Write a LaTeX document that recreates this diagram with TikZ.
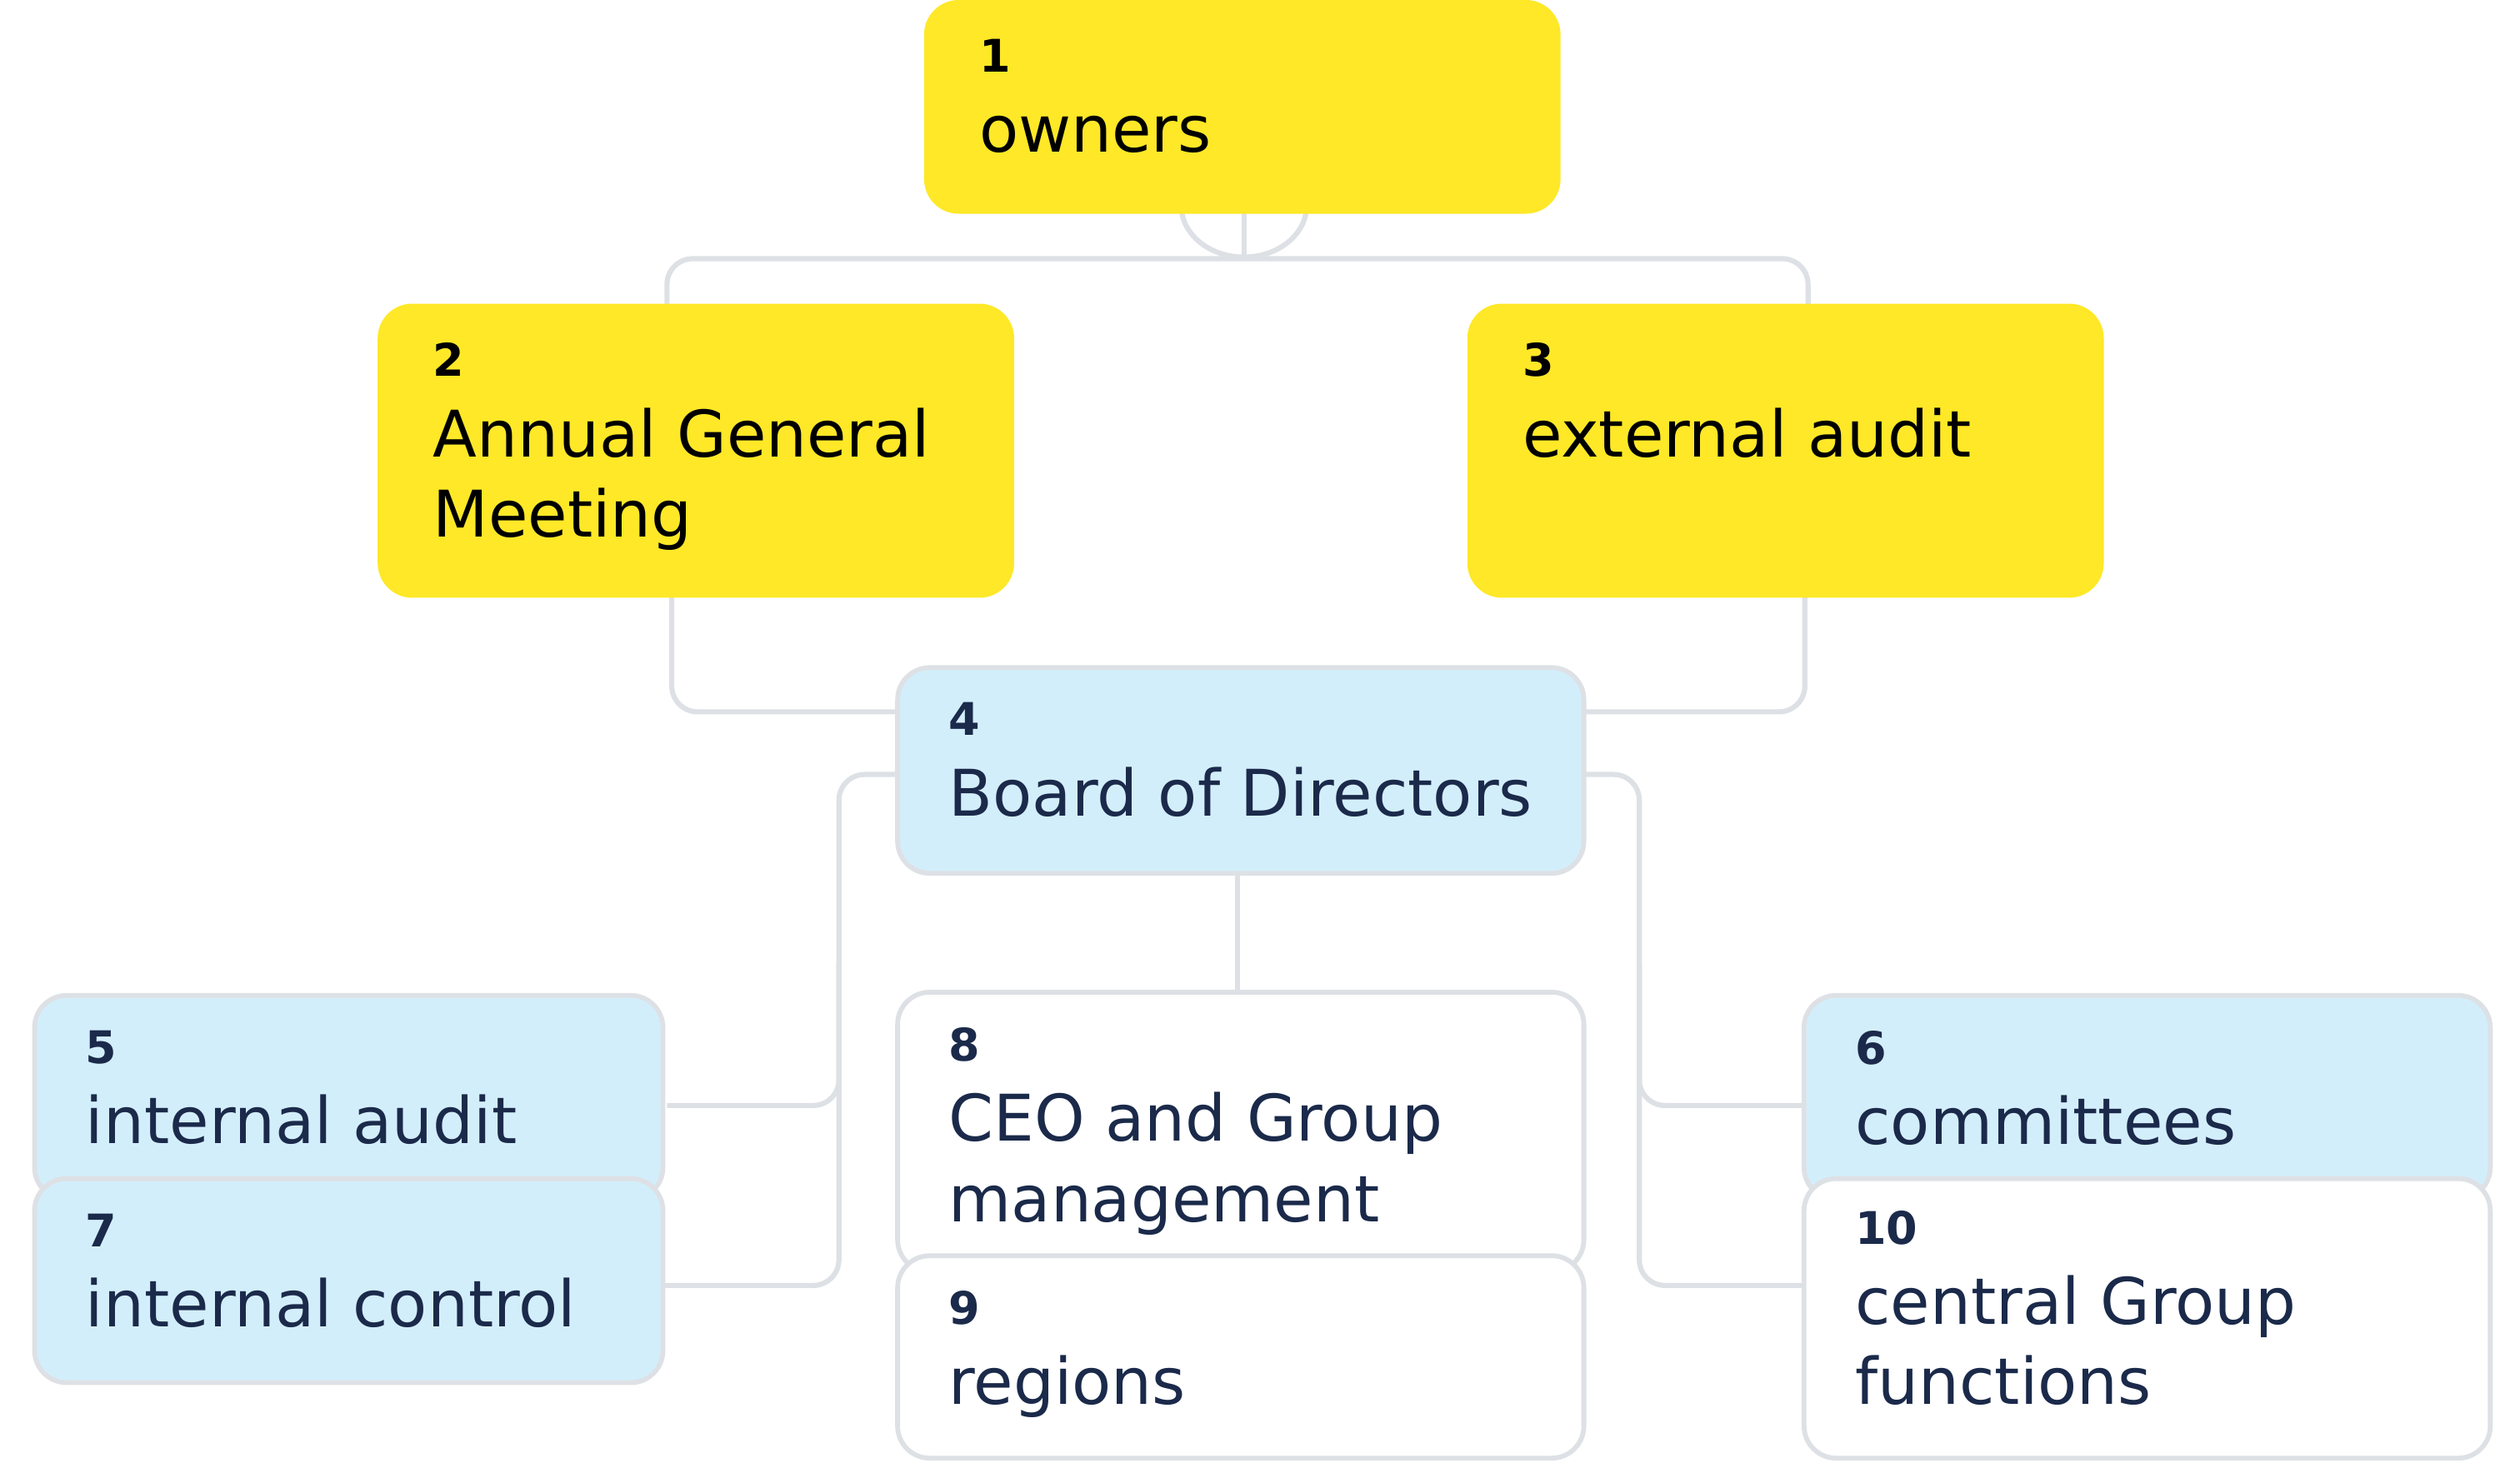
\documentclass[tikz,border=0pt]{standalone}
\usepackage{fontspec}
\setmainfont{DejaVu Sans}
\definecolor{yel}{HTML}{FEE827}
\definecolor{lblue}{HTML}{D3EEFB}
\definecolor{lgray}{HTML}{DDE1E5}
\definecolor{navy}{HTML}{1B2A4A}
\begin{document}
\begin{tikzpicture}[x=0.5pt,y=-0.5pt,
  box/.style={draw=lgray,line width=1.5pt,rounded corners=10pt,inner sep=0pt,anchor=north west},
  ybox/.style={box,fill=yel,draw=yel},
  bbox/.style={box,fill=lblue},
  wbox/.style={box,fill=white},
  conn/.style={draw=lgray,line width=1.6pt,rounded corners=8pt},
  txt/.style={anchor=north west,inner sep=0pt,align=left,font=\fontsize{20}{25}\selectfont},
]
\useasboundingbox (0,0) rectangle (1568,910);
\newcommand{\num}[1]{{\fontsize{14}{25}\selectfont\bfseries #1}}
% connectors
\coordinate (c1) at (774,160);
\draw[conn] (735,128) arc[start angle=180,end angle=360,x radius=39,y radius=-32];
\draw[conn] (774,128) -- (c1);
\draw[conn] (415,190) -- (415,161) -- (1125,161) -- (1125,190);
\draw[conn] (418,368) -- (418,443) -- (560,443);
\draw[conn] (1123,368) -- (1123,443) -- (982,443);
\draw[conn] (560,482) -- (522,482) -- (522,688) -- (415,688);
\draw[conn] (522,600) -- (522,800) -- (411,800);
\draw[conn] (982,482) -- (1020,482) -- (1020,688) -- (1121,688);
\draw[conn] (1020,600) -- (1020,800) -- (1121,800);
\draw[conn] (770,540) -- (770,618);
% boxes
\node[ybox,minimum width=196.5pt,minimum height=65pt] (b1) at (575,0) {};
\node[ybox,minimum width=196.5pt,minimum height=90pt] (b2) at (235,189) {};
\node[ybox,minimum width=196.5pt,minimum height=90pt] (b3) at (913,189) {};
\node[bbox,minimum width=213.5pt,minimum height=64pt] (b4) at (557,414) {};
\node[bbox,minimum width=195.5pt,minimum height=63.5pt] (b5) at (20,618) {};
\node[bbox,minimum width=195.5pt,minimum height=63.5pt] (b7) at (20,732) {};
\node[wbox,minimum width=213.5pt,minimum height=87pt] (b8) at (557,616) {};
\node[wbox,minimum width=213.5pt,minimum height=63pt] (b9) at (557,780) {};
\node[bbox,minimum width=213.5pt,minimum height=63.5pt] (b6) at (1121,618) {};
\node[wbox,minimum width=213.5pt,minimum height=87pt] (b10) at (1121,732) {};
% texts
\node[txt] (t1) at (609,24) {\num{1}\\owners};
\node[txt] (t2) at (269,213) {\num{2}\\Annual General\\Meeting};
\node[txt] (t3) at (947,213) {\num{3}\\external audit};
\node[txt,text=navy] (t4) at (590,437) {\num{4}\\Board of Directors};
\node[txt,text=navy] (t5) at (53,641) {\num{5}\\internal audit};
\node[txt,text=navy] (t7) at (53,755) {\num{7}\\internal control};
\node[txt,text=navy] (t8) at (590,639) {\num{8}\\CEO and Group\\management};
\node[txt,text=navy] (t9) at (590,803) {\num{9}\\regions};
\node[txt,text=navy] (t6) at (1154,641) {\num{6}\\committees};
\node[txt,text=navy] (t10) at (1154,753) {\num{10}\\central Group\\functions};
\end{tikzpicture}
\end{document}
